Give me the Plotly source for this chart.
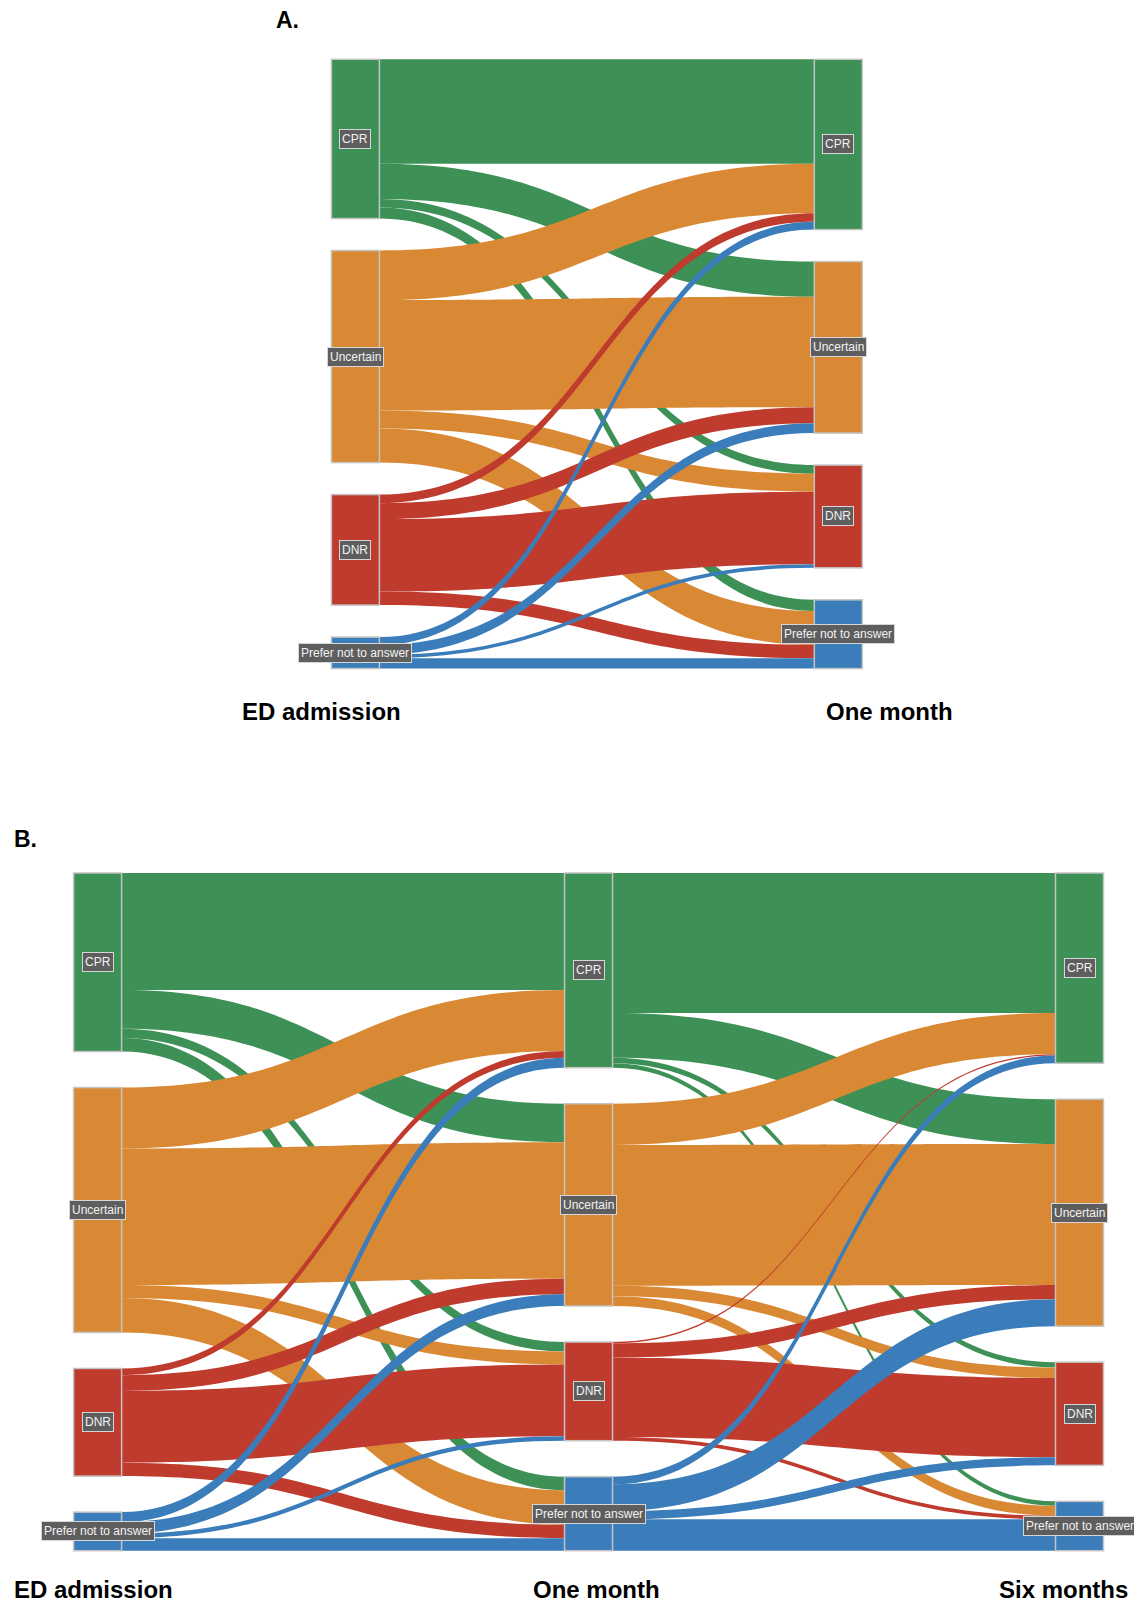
import plotly.graph_objects as go

# ---------------- data ----------------
categories = ["CPR", "Uncertain", "DNR", "Prefer not to answer"]
cat_colors = ["#3E9156", "#D98834", "#BF3B2E", "#3B7DBA"]

# Panel A: ED admission -> One month (rows = from, columns = to)
a_ed_to_1m = [
    [255, 86, 21, 27],
    [121, 270, 44, 83],
    [21, 39, 177, 33],
    [19, 24, 9, 25],
]

# Panel B: ED admission -> One month -> Six months
b_ed_to_1m = [
    [261, 86, 21, 30],
    [136, 304, 29, 77],
    [15, 35, 160, 30],
    [22, 26, 10, 28],
]
b_1m_to_6m = [
    [312, 100, 12, 10],
    [92, 314, 23, 22],
    [3, 32, 177, 8],
    [17, 60, 18, 70],
]

a_stages = ["ED admission", "One month"]
b_stages = ["ED admission", "One month", "Six months"]

# ---------------- layout constants ----------------
PAGE_OFF = 8  # default page body margin
FIG_W, FIG_H = 1142 - PAGE_OFF, 1603 - PAGE_OFF
FONT = "Liberation Sans, Arial, Helvetica, sans-serif"

# positions measured in page pixels
A_DOM_PX = dict(x0=331.4, x1=862.3, y0=59.3, y1=668.6)
B_DOM_PX = dict(x0=73.6, x1=1103.5, y0=873.0, y1=1550.7)
A_PAD, B_PAD = 32, 36
THICK = 48


def fx(px):
    return (px - PAGE_OFF) / FIG_W


def fy(py):
    return 1 - (py - PAGE_OFF) / FIG_H


def dom_frac(d):
    return dict(x=[fx(d["x0"]), fx(d["x1"])], y=[fy(d["y1"]), fy(d["y0"])])


def column_values(matrices):
    cols = [[sum(row) for row in matrices[0]]]
    for m in matrices:
        cols.append([sum(m[i][j] for i in range(len(m))) for j in range(len(m[0]))])
    for k in range(1, len(matrices)):
        outs = [sum(row) for row in matrices[k]]
        cols[k] = [max(a, b) for a, b in zip(cols[k], outs)]
    return cols


def build(matrices, dom_px, pad):
    W = dom_px["x1"] - dom_px["x0"]
    H = dom_px["y1"] - dom_px["y0"]
    cols = column_values(matrices)
    ncol = len(cols)
    ky = min((H - (len(c) - 1) * pad) / sum(c) for c in cols)
    xs, ys, labels, colors = [], [], [], []
    for k, c in enumerate(cols):
        if k == 0:
            xn = (THICK / 2) / W
        elif k == ncol - 1:
            xn = 1 - (THICK / 2) / W
        else:
            xn = k / (ncol - 1)
        hs = [v * ky for v in c]
        gap = (H - sum(hs)) / (len(c) - 1)
        y = 0
        for i, h in enumerate(hs):
            xs.append(xn)
            ys.append((y + h / 2) / H)
            labels.append(categories[i])
            colors.append(cat_colors[i])
            y += h + gap
    src, tgt, val, lcol = [], [], [], []
    n = len(categories)
    for k, m in enumerate(matrices):
        for i in range(n):
            for j in range(n):
                src.append(k * n + i)
                tgt.append((k + 1) * n + j)
                val.append(m[i][j])
                lcol.append(cat_colors[i])
    trace = go.Sankey(
        arrangement="fixed",
        domain=dom_frac(dom_px),
        node=dict(
            pad=pad, thickness=THICK,
            label=[""] * len(labels),
            color=colors,
            x=xs, y=ys,
            line=dict(color="#C4C4C4", width=1.5),
            hoverinfo="none",
        ),
        link=dict(source=src, target=tgt, value=val, color=lcol, hoverinfo="none"),
    )
    anns = []
    for xn, yn, lab in zip(xs, ys, labels):
        px = dom_px["x0"] + xn * W
        py = dom_px["y0"] + yn * H
        anns.append(dict(
            x=fx(px), y=fy(py), xref="paper", yref="paper",
            text=lab, showarrow=False, xanchor="center", yanchor="middle",
            font=dict(family=FONT, size=12, color="#F2F2F2"),
            bgcolor="#5E5E5E", bordercolor="#D6D6D6", borderwidth=1, borderpad=2,
        ))
    return trace, anns


trA, annA = build([a_ed_to_1m], A_DOM_PX, A_PAD)
trB, annB = build([b_ed_to_1m, b_1m_to_6m], B_DOM_PX, B_PAD)

fig = go.Figure([trA, trB])


def text_ann(text, x_px, y_px, size, xanchor="center"):
    return dict(x=fx(x_px), y=fy(y_px), xref="paper", yref="paper",
                text=text, showarrow=False, xanchor=xanchor, yanchor="middle",
                font=dict(family=FONT, size=size, color="#000000", weight="bold"))


titles = [
    text_ann("A.", 274.0, 19.5, 23, "left"),
    text_ann("B.", 12.0, 838.5, 23, "left"),
    text_ann(a_stages[0], 321.0, 711.5, 24),
    text_ann(a_stages[1], 889.0, 711.5, 24),
    text_ann(b_stages[0], 12.0, 1589.0, 24, "left"),
    text_ann(b_stages[1], 596.5, 1589.0, 24),
    text_ann(b_stages[2], 1130.0, 1589.0, 24, "right"),
]

fig.update_layout(
    width=FIG_W, height=FIG_H,
    margin=dict(l=0, r=0, t=0, b=0),
    paper_bgcolor="white", plot_bgcolor="white",
    font=dict(family=FONT),
    annotations=annA + annB + titles,
)

fig.write_html("out.html")
